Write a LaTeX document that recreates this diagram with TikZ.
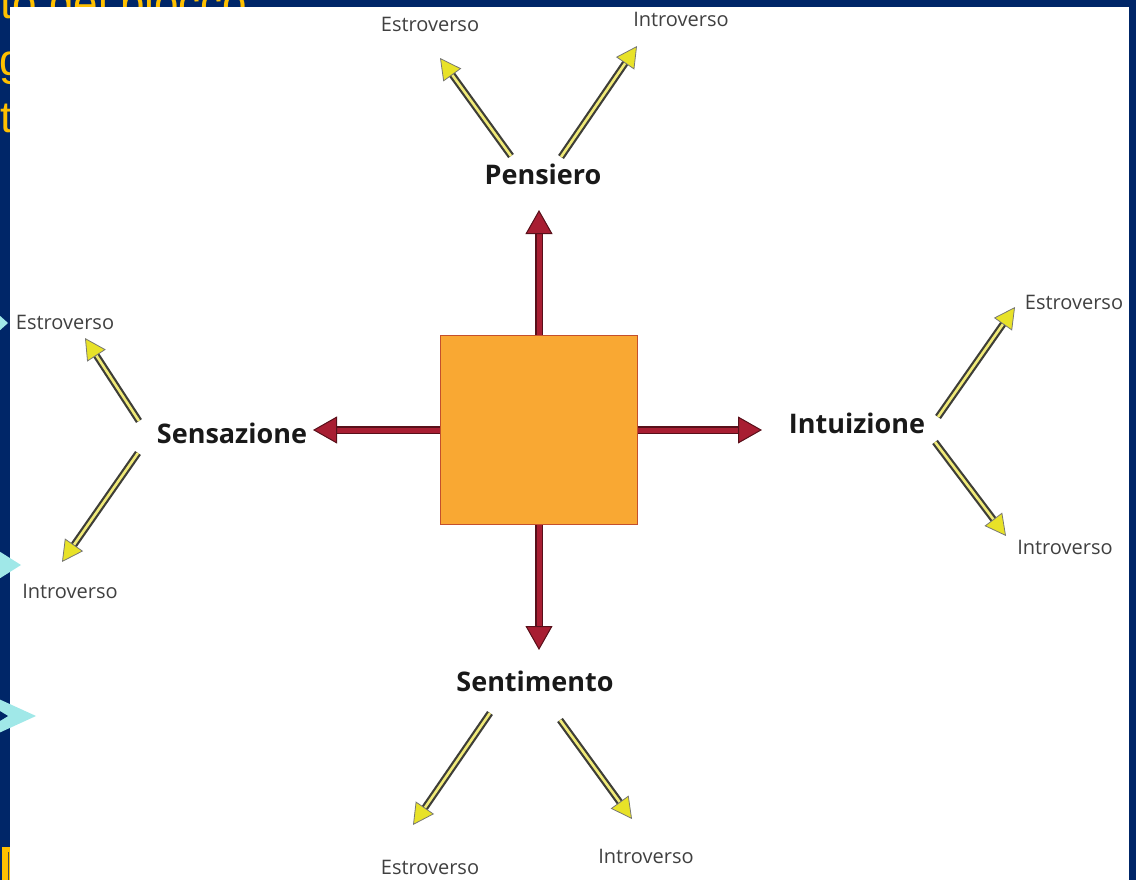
\documentclass[tikz,border=0pt]{standalone}
\usepackage{fontspec}
\setmainfont{Liberation Sans}
\newfontfamily\labelfont{Open Sans}
\usetikzlibrary{positioning,arrows.meta}

\definecolor{slidebg}{RGB}{0,38,104}
\definecolor{slideyellow}{RGB}{255,192,0}
\definecolor{bulletcyan}{RGB}{160,232,232}
\definecolor{corefill}{RGB}{249,168,51}
\definecolor{coreedge}{RGB}{196,80,44}
\definecolor{redshaft}{RGB}{168,30,50}
\definecolor{rededge}{RGB}{88,16,26}
\definecolor{yelshaft}{RGB}{240,234,120}
\definecolor{yelhead}{RGB}{232,226,40}
\definecolor{yeledge}{RGB}{62,62,56}

\tikzset{
  corebox/.style={draw=coreedge, line width=1.2pt, fill=corefill, minimum width=197pt, minimum height=189pt, inner sep=0pt},
  mainarrow/.style={line width=5pt, draw=redshaft, -{Triangle[length=24pt,width=27pt,line width=1pt,color=rededge,fill=redshaft]},
    preaction={draw=rededge, line width=8pt, -, shorten >=20pt}},
  sidearrow/.style={line width=2.6pt, draw=yelshaft, -{Triangle[length=21pt,width=22pt,line width=0.8pt,color=yeledge!70,fill=yelhead]},
    preaction={draw=yeledge, line width=7pt, -, shorten >=17pt}},
  func/.style={font=\labelfont\bfseries\fontsize{27}{30}\selectfont, text=black!90, inner sep=1pt},
  attit/.style={font=\labelfont\fontsize{20}{23}\selectfont, text=black!75, inner sep=1pt},
  slidetext/.style={anchor=base west, font=\fontsize{44}{50}\selectfont, text=slideyellow, inner sep=0pt}
}

\begin{document}
\begin{tikzpicture}[x=1pt,y=-1pt]
        \useasboundingbox (0,0) rectangle (1136,880);
        % slide behind the picture
        \fill[slidebg] (0,0) rectangle (1136,880);
        \node[slidetext] (title) at (0,19) {to del blocco};
        \node[slidetext] (lineg) at (-1,76) {g};
        \node[slidetext] (linet) at (0,133) {t};
        \fill[slideyellow] (2,847) rectangle (12,882);
        \draw[gray!60!black, line width=1.5pt] (8.5,852) -- (8.5,882);
        \fill[white] (10,7) rectangle (1129,880);

        % bullets of the slide
        \fill[bulletcyan] (-2,314) -- (8,323) -- (-2,332) -- cycle;
        \fill[bulletcyan] (-6,548) -- (21,565) -- (-6,582) -- cycle;
        \fill[bulletcyan] (-10,695) -- (36,716) -- (-10,737) -- cycle;
        \fill[slidebg] (-10,705) -- (8,716) -- (-10,727) -- cycle;

        % central square and the four functions
        \node[corebox] (core) at (539,430) {};
        \node[func] (pens) at (543,174) {Pensiero};
        \node[func] (sens) at (232,433) {Sensazione};
        \node[func] (intu) at (857,423) {Intuizione};
        \node[func] (sent) at (535,681) {Sentimento};

        \coordinate (tipN) at (539,210);
        \coordinate (tipW) at (313,430);
        \coordinate (tipE) at (762,430);
        \coordinate (tipS) at (539,650);
        \foreach \side/\dir in {north/N, west/W, east/E, south/S} {
          \draw[mainarrow] (core.\side) -- (tip\dir);
        }

        % attitudes
        \foreach \n/\x/\y/\txt in {pe/430/24/Estroverso, pi/681/19/Introverso, se/65/322/Estroverso, si/70/591/Introverso,
                                   ie/1074/302/Estroverso, ii/1065/547/Introverso, te/430/867/Estroverso, ti/646/856/Introverso} {
          \node[attit] (a\n) at (\x,\y) {\txt};
        }

        \foreach \n/\sx/\sy/\tx/\ty in {pe/511/156/440/58, pi/561/157/637/46, se/139/421/85/338, si/138/453/62/562,
                                        ie/938/417/1015/307, ii/935/442/1006/536, te/490/713/413/825, ti/560/720/632/819} {
          \coordinate (s\n) at (\sx,\sy);
          \coordinate (t\n) at (\tx,\ty);
          \draw[sidearrow] (s\n) -- (t\n);
        }
    \end{tikzpicture}
\end{document}
